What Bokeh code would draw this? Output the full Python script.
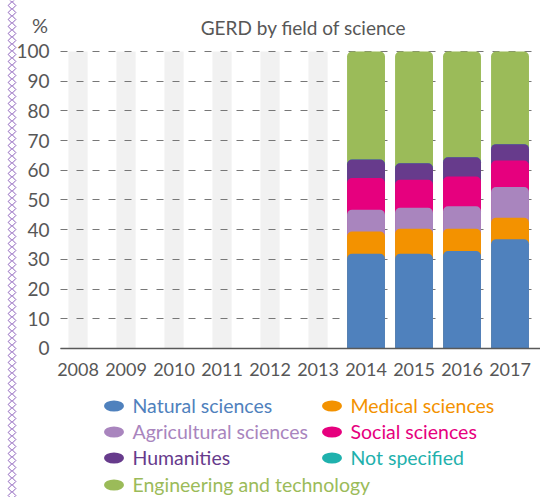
import numpy as np
from bokeh.plotting import figure
from bokeh.models import (Range1d, FixedTicker, Legend, LegendItem, Label, Grid)
from bokeh.embed import file_html
from bokeh.resources import INLINE

# ---- data ----
years = [2008, 2009, 2010, 2011, 2012, 2013, 2014, 2015, 2016, 2017]
data_years = [2014, 2015, 2016, 2017]
natural = [31.9, 31.9, 32.8, 36.8]
medical = [7.5, 8.4, 7.5, 7.2]
agricultural = [7.3, 7.1, 7.6, 10.4]
social = [10.7, 9.4, 10.0, 8.9]
humanities = [6.2, 5.6, 6.5, 5.5]
not_specified = [0.0, 0.0, 0.0, 0.0]
engineering = [36.4, 37.6, 35.6, 31.2]

series_names = ["Natural sciences", "Medical sciences", "Agricultural sciences",
                "Social sciences", "Humanities", "Not specified",
                "Engineering and technology"]
series_values = [natural, medical, agricultural, social, humanities,
                 not_specified, engineering]
series_colors = ["#4f81bd", "#f39200", "#a985be", "#e6007e", "#673b8c",
                 "#1fb1ad", "#9bbb59"]
y_ticks = [0, 10, 20, 30, 40, 50, 60, 70, 80, 90, 100]

FONT = "Lato"
TXT = "#575757"

W, H = 540, 497
X0, X1 = 2007.635, 2017.635          # plotting area (left edge of grid .. right edge)

p = figure(width=W, height=H,
           x_range=Range1d(2006.385, X1), y_range=Range1d(-50.17, 117.17),
           output_backend="svg", toolbar_location=None, min_border=0)
p.min_border_left = p.min_border_right = p.min_border_top = p.min_border_bottom = 0
p.outline_line_color = None
p.extra_x_ranges = {"px": Range1d(0, W)}
p.extra_y_ranges = {"px": Range1d(0, H)}

# grey placeholder columns
p.vbar(x=years, width=0.4, bottom=0, top=100, fill_color="#f1f1f1",
       line_color=None, level="image")

# stacked bars drawn as layered cumulative columns (top series first)
cum = np.cumsum(np.array(series_values, dtype=float), axis=0)
for i in reversed(range(len(series_names))):
    p.vbar(x=data_years, width=0.79, bottom=0, top=cum[i],
           fill_color=series_colors[i], line_color=None,
           border_radius=(5, 5, 0, 0))

# axes
p.xaxis.fixed_location = 0
p.xaxis.bounds = (X0, X1)
p.xaxis.ticker = FixedTicker(ticks=years)
p.xaxis.major_tick_line_color = None
p.xaxis.minor_tick_line_color = None
p.xaxis.axis_line_color = "#595959"
p.xaxis.axis_line_width = 1.6
p.xaxis.major_label_text_font = FONT
p.xaxis.major_label_text_font_size = "18px"
p.xaxis.major_label_text_color = TXT
p.xaxis.major_label_standoff = 9

p.yaxis.fixed_location = X0
p.yaxis.bounds = (0, 100)
p.yaxis.ticker = FixedTicker(ticks=y_ticks)
p.yaxis.major_tick_line_color = None
p.yaxis.minor_tick_line_color = None
p.yaxis.axis_line_color = None
p.yaxis.major_label_text_font = FONT
p.yaxis.major_label_text_font_size = "19px"
p.yaxis.major_label_text_color = TXT
p.yaxis.major_label_standoff = 5

p.xgrid.grid_line_color = None
p.ygrid.grid_line_color = "#777777"
p.ygrid.grid_line_dash = "7 9"
p.ygrid.grid_line_width = 1
if "cross_bounds" in Grid.properties():
    p.ygrid.cross_bounds = (X0, X1)

# title and unit
p.add_layout(Label(x=303, y=470, x_units="screen", y_units="screen",
                   text="GERD by field of science", text_font=FONT,
                   text_font_size="19px", text_color=TXT,
                   text_align="center", text_baseline="middle"))
p.add_layout(Label(x=39.5, y=472.5, x_units="screen", y_units="screen", text="%",
                   text_font=FONT, text_font_size="20px", text_color=TXT,
                   text_align="center", text_baseline="middle"))

# legend (one legend per item so that each label has its own colour)
legend_pos = [(100.5, 79.5), (318.5, 79.5), (100.5, 52.8), (318.5, 52.8),
              (100.5, 26.8), (318.5, 26.8), (100.5, 0.5)]
for name, color, pos in zip(series_names, series_colors, legend_pos):
    r = p.ellipse(x=[np.nan], y=[np.nan], width=20, height=11,
                  width_units="screen", height_units="screen",
                  fill_color=color, line_color=None)
    leg = Legend(items=[LegendItem(label=name, renderers=[r])],
                 location=pos, orientation="vertical",
                 glyph_width=25, glyph_height=25, label_standoff=7,
                 padding=0, margin=0, spacing=0,
                 border_line_color=None, background_fill_alpha=0,
                 label_text_font=FONT, label_text_font_size="19.5px",
                 label_text_color=color)
    p.add_layout(leg)

# decorative diamond chain on the left edge (pixel space)
chain_y = np.arange(H + 2, -6, -7.0)
p.scatter(x=np.full(len(chain_y), 11.5), y=chain_y, marker="square",
          angle=np.pi / 4, size=5.5, fill_color="white",
          line_color="#8e62bd", line_width=1,
          x_range_name="px", y_range_name="px")

open("out.html", "w").write(file_html(p, INLINE))
